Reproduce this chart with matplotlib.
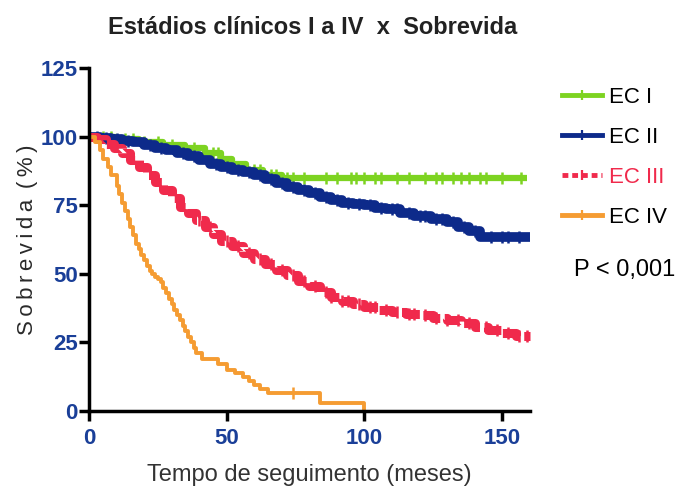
import numpy as np
import matplotlib.pyplot as plt
from matplotlib.lines import Line2D

# survival curves (months, % surviving)
time_ec1 = [0, 10, 18, 27, 35, 42, 48, 52, 57, 63, 70, 159]
surv_ec1 = [100, 99, 98, 97, 96, 94, 92, 90, 88, 86, 85, 85]
cens_ec1 = [5, 8, 13, 16, 20, 25, 30, 38, 45, 47, 60, 62, 66, 68, 72, 74, 78, 86,
            90, 95, 97, 100, 104, 106, 112, 116, 122, 126, 128, 132, 135, 138,
            142, 144, 150, 157]

time_ec2 = [0, 4, 8, 12, 16, 20, 24, 28, 32, 36, 40, 44, 48, 52, 56, 60, 64, 68,
            72, 76, 80, 84, 88, 92, 96, 100, 104, 108, 113, 118, 124, 130, 134,
            138, 142, 160]
surv_ec2 = [100, 99.5, 99, 98.5, 98, 97, 96, 95, 94, 93, 91.5, 90, 89, 88, 87,
            86, 84.5, 83, 81.5, 80.5, 79.5, 78, 77, 76, 75.5, 75, 74, 73.5, 72,
            71, 70, 69, 67, 65.5, 63.5, 63.5]
cens_ec2 = [3, 6, 10, 14, 22, 26, 34, 38, 46, 50, 54, 58, 62, 66, 70, 74, 78,
            82, 86, 90, 94, 98, 102, 106, 110, 112, 116, 120, 122, 126, 128,
            132, 136, 140, 146, 150, 152, 156]

time_ec3 = [0, 3, 6, 9, 12, 15, 18, 21, 24, 27, 30, 33, 36, 39, 42, 45, 48, 52,
            56, 60, 64, 68, 72, 76, 80, 84, 88, 92, 96, 100, 105, 110, 115, 120,
            125, 130, 135, 140, 145, 150, 155, 160]
surv_ec3 = [100, 99, 97.5, 96, 94, 91.5, 89, 86, 83.5, 80.5, 77.5, 74.5, 72,
            69.5, 67, 64.5, 62, 60, 57.5, 55.5, 53.5, 51.5, 49.5, 47.5, 45.5,
            43.5, 41.5, 40, 39, 38, 37, 36, 35.5, 35, 34, 33, 32, 30.5, 29.5,
            28.5, 27.5, 27.5]
cens_ec3 = [40, 44, 50, 54, 58, 62, 66, 70, 74, 78, 82, 86, 88, 92, 94, 98,
            102, 104, 108, 112, 116, 118, 122, 126, 130, 134, 138, 144, 148,
            152, 156, 159]

time_ec4 = [0, 2, 4, 5, 7, 8, 10, 11, 12, 13, 14, 15, 16, 17, 18, 19, 20, 21,
            22, 23, 24, 25, 26, 27, 28, 29, 30, 31, 32, 33, 34, 35, 36, 37, 38,
            39, 41, 47, 50, 53, 56, 58, 60, 62, 65, 84, 100]
surv_ec4 = [100, 98, 95, 92, 89, 86, 82, 79, 76, 73, 70, 67, 64, 61, 59, 57,
            55, 53, 51, 50, 49, 48, 47, 45, 43, 41, 39, 37, 35, 33, 31, 29,
            27, 25, 23, 21, 19, 17, 15, 14, 12.5, 11, 9.5, 8, 6.5, 3, 0]
cens_ec4 = [74]

labels = ["EC I", "EC II", "EC III", "EC IV"]
colors = ["#7dd321", "#0d2a8a", "#f02a4c", "#f59c32"]
tick_blue = "#1a3f98"

plt.rcParams['font.family'] = ['Liberation Sans', 'DejaVu Sans']

fig = plt.figure(figsize=(6.87, 4.97), dpi=100)
ax = fig.add_axes([0.1296, 0.173, 0.6414, 0.690])


def draw_curve(t, s, cens, color, lw, dashed=False):
    line, = ax.step(t, s, where='post', color=color, lw=lw, clip_on=False,
                    solid_capstyle='butt')
    if dashed:
        line.set_dashes((2.2, 0.5))
    # censor ticks sit on the curve
    idx = np.searchsorted(t, cens, side='right') - 1
    cy = np.array(s)[idx]
    ax.plot(cens, cy, ls='none', marker='|', ms=8, mew=1.8, color=color,
            clip_on=False)


draw_curve(time_ec1, surv_ec1, cens_ec1, colors[0], 4.5)
draw_curve(time_ec2, surv_ec2, cens_ec2, colors[1], 7)
draw_curve(time_ec3, surv_ec3, cens_ec3, colors[2], 6.5, dashed=True)
draw_curve(time_ec4, surv_ec4, cens_ec4, colors[3], 2.8)

ax.set_xlim(0, 160)
ax.set_ylim(0, 125)
ax.set_xticks([0, 50, 100, 150])
ax.set_yticks([0, 25, 50, 75, 100, 125])
for sp in ["top", "right"]:
    ax.spines[sp].set_visible(False)
for sp in ["left", "bottom"]:
    ax.spines[sp].set_linewidth(2.5)
ax.tick_params(width=2.5, length=7, labelcolor=tick_blue)
ax.tick_params(axis='x', pad=5)
ax.tick_params(axis='y', pad=1)
for lab in ax.get_xticklabels() + ax.get_yticklabels():
    lab.set_fontweight('bold')
    lab.set_fontsize(16)

ax.set_xlabel("Tempo de seguimento (meses)", fontsize=17, color="#333333",
              labelpad=11)
ax.set_ylabel("S\u2009o\u2009b\u2009r\u2009e\u2009v\u2009i\u2009d\u2009a"
              "\u2009 (\u2009%\u2009)", fontsize=16, color="#2a2a2a",
              labelpad=2)
fig.suptitle("Estádios clínicos I a IV  x  Sobrevida", x=0.455, y=0.968,
             fontsize=17, fontweight='bold', color="#222222")

handles = []
for i, c in enumerate(colors):
    h = Line2D([0, 0.5, 1], [0, 0, 0], color=c, lw=3.5, marker='|', ms=7,
               mew=1.6, markevery=[1])
    if i == 2:
        h.set_dashes((1.2, 0.8))
    handles.append(h)
fig.legend(handles, labels, loc='upper left', bbox_to_anchor=(0.818, 0.825),
           frameon=False, fontsize=16, handlelength=1.8, handletextpad=0.3,
           labelspacing=0.85, borderpad=0, borderaxespad=0,
           labelcolor=["black", "black", colors[2], "black"])

fig.text(0.836, 0.445, "P < 0,001", fontsize=17, color="black")

fig.savefig("out.png", dpi=100)
